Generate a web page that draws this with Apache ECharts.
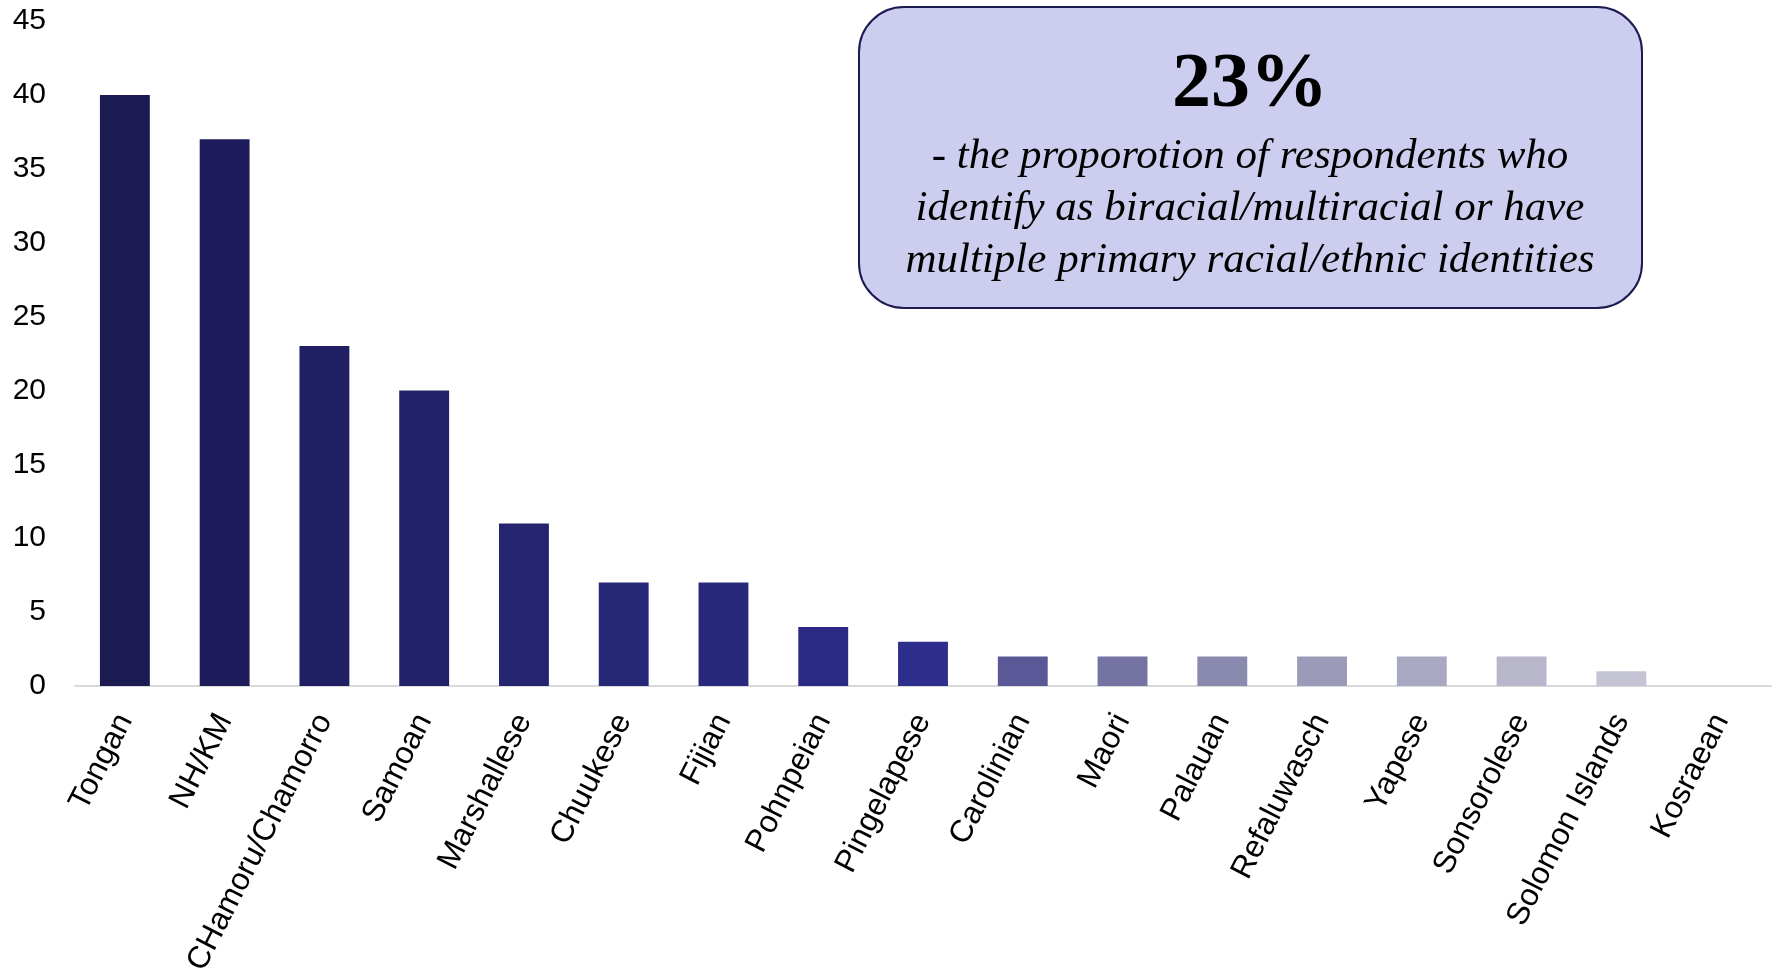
<!DOCTYPE html>
<html>
<head>
<meta charset="utf-8">
<script src="https://cdn.jsdelivr.net/npm/echarts@6/dist/echarts.min.js"></script>
<style>
html,body{margin:0;padding:0;background:#fff;}
#chart{width:1777px;height:973px;}
</style>
</head>
<body>
<div id="chart"></div>
<script>
const categories = ['Tongan','NH/KM','CHamoru/Chamorro','Samoan','Marshallese','Chuukese','Fijian','Pohnpeian','Pingelapese','Carolinian','Maori','Palauan','Refaluwasch','Yapese','Sonsorolese','Solomon Islands','Kosraean'];
const values = [40, 37, 23, 20, 11, 7, 7, 4, 3, 2, 2, 2, 2, 2, 2, 1, 0];
const yTicks = [0, 5, 10, 15, 20, 25, 30, 35, 40, 45];
const barColors = ['#1c1a52','#1f1c5c','#201f63','#222268','#25256f','#262776','#28287d','#2a2a84','#2d2d8b','#5a5896','#7473a1','#8a89ae','#9b9ab8','#a9a8c2','#b7b6cb','#c5c4d5','#d0d0dd'];
const calloutBig = '23%';
const calloutLines = ['- the proporotion of respondents who', 'identify as biracial/multiracial or have', 'multiple primary racial/ethnic identities'];

const chart = echarts.init(document.getElementById('chart'), null, {renderer: 'canvas'});
const option = {
  animation: false,
  grid: {left: 75, right: 6, top: 21, bottom: 287, containLabel: false, outerBoundsMode: 'none'},
  xAxis: {
    type: 'category',
    data: categories,
    axisTick: {show: false},
    axisLine: {show: true, lineStyle: {color: '#d9d9d9', width: 2}},
    axisLabel: {
      interval: 0, rotate: 63, margin: 30,
      color: '#000', fontSize: 31.5, fontFamily: 'Liberation Sans, Arial, sans-serif'
    }
  },
  yAxis: {
    type: 'value',
    min: yTicks[0], max: yTicks[yTicks.length - 1], interval: yTicks[1] - yTicks[0],
    splitLine: {show: false},
    axisLine: {show: false},
    axisTick: {show: false},
    axisLabel: {margin: 29, color: '#000', fontSize: 30, fontFamily: 'Liberation Sans, Arial, sans-serif'}
  },
  series: [{
    type: 'bar',
    barWidth: '50%',
    data: values.map((v, i) => ({value: v, itemStyle: {color: barColors[i]}}))
  }],
  graphic: [
    {
      type: 'rect', left: 858, top: 6, z: 10,
      shape: {width: 783, height: 301, r: 45},
      style: {fill: '#cdcdef', stroke: '#1c1a52', lineWidth: 2}
    },
    {
      type: 'text', x: 1250, y: 86, z: 11,
      style: {text: calloutBig, fill: '#000', font: 'bold 78px "Liberation Serif", "Times New Roman", serif', align: 'center', verticalAlign: 'middle'}
    },
    ...calloutLines.map((t, i) => ({
      type: 'text', x: 1250, y: 157 + i * 52, z: 11,
      style: {text: t, fill: '#000', font: 'italic 43px "Liberation Serif", "Times New Roman", serif', align: 'center', verticalAlign: 'middle'}
    }))
  ]
};
chart.setOption(option);
</script>
</body>
</html>
